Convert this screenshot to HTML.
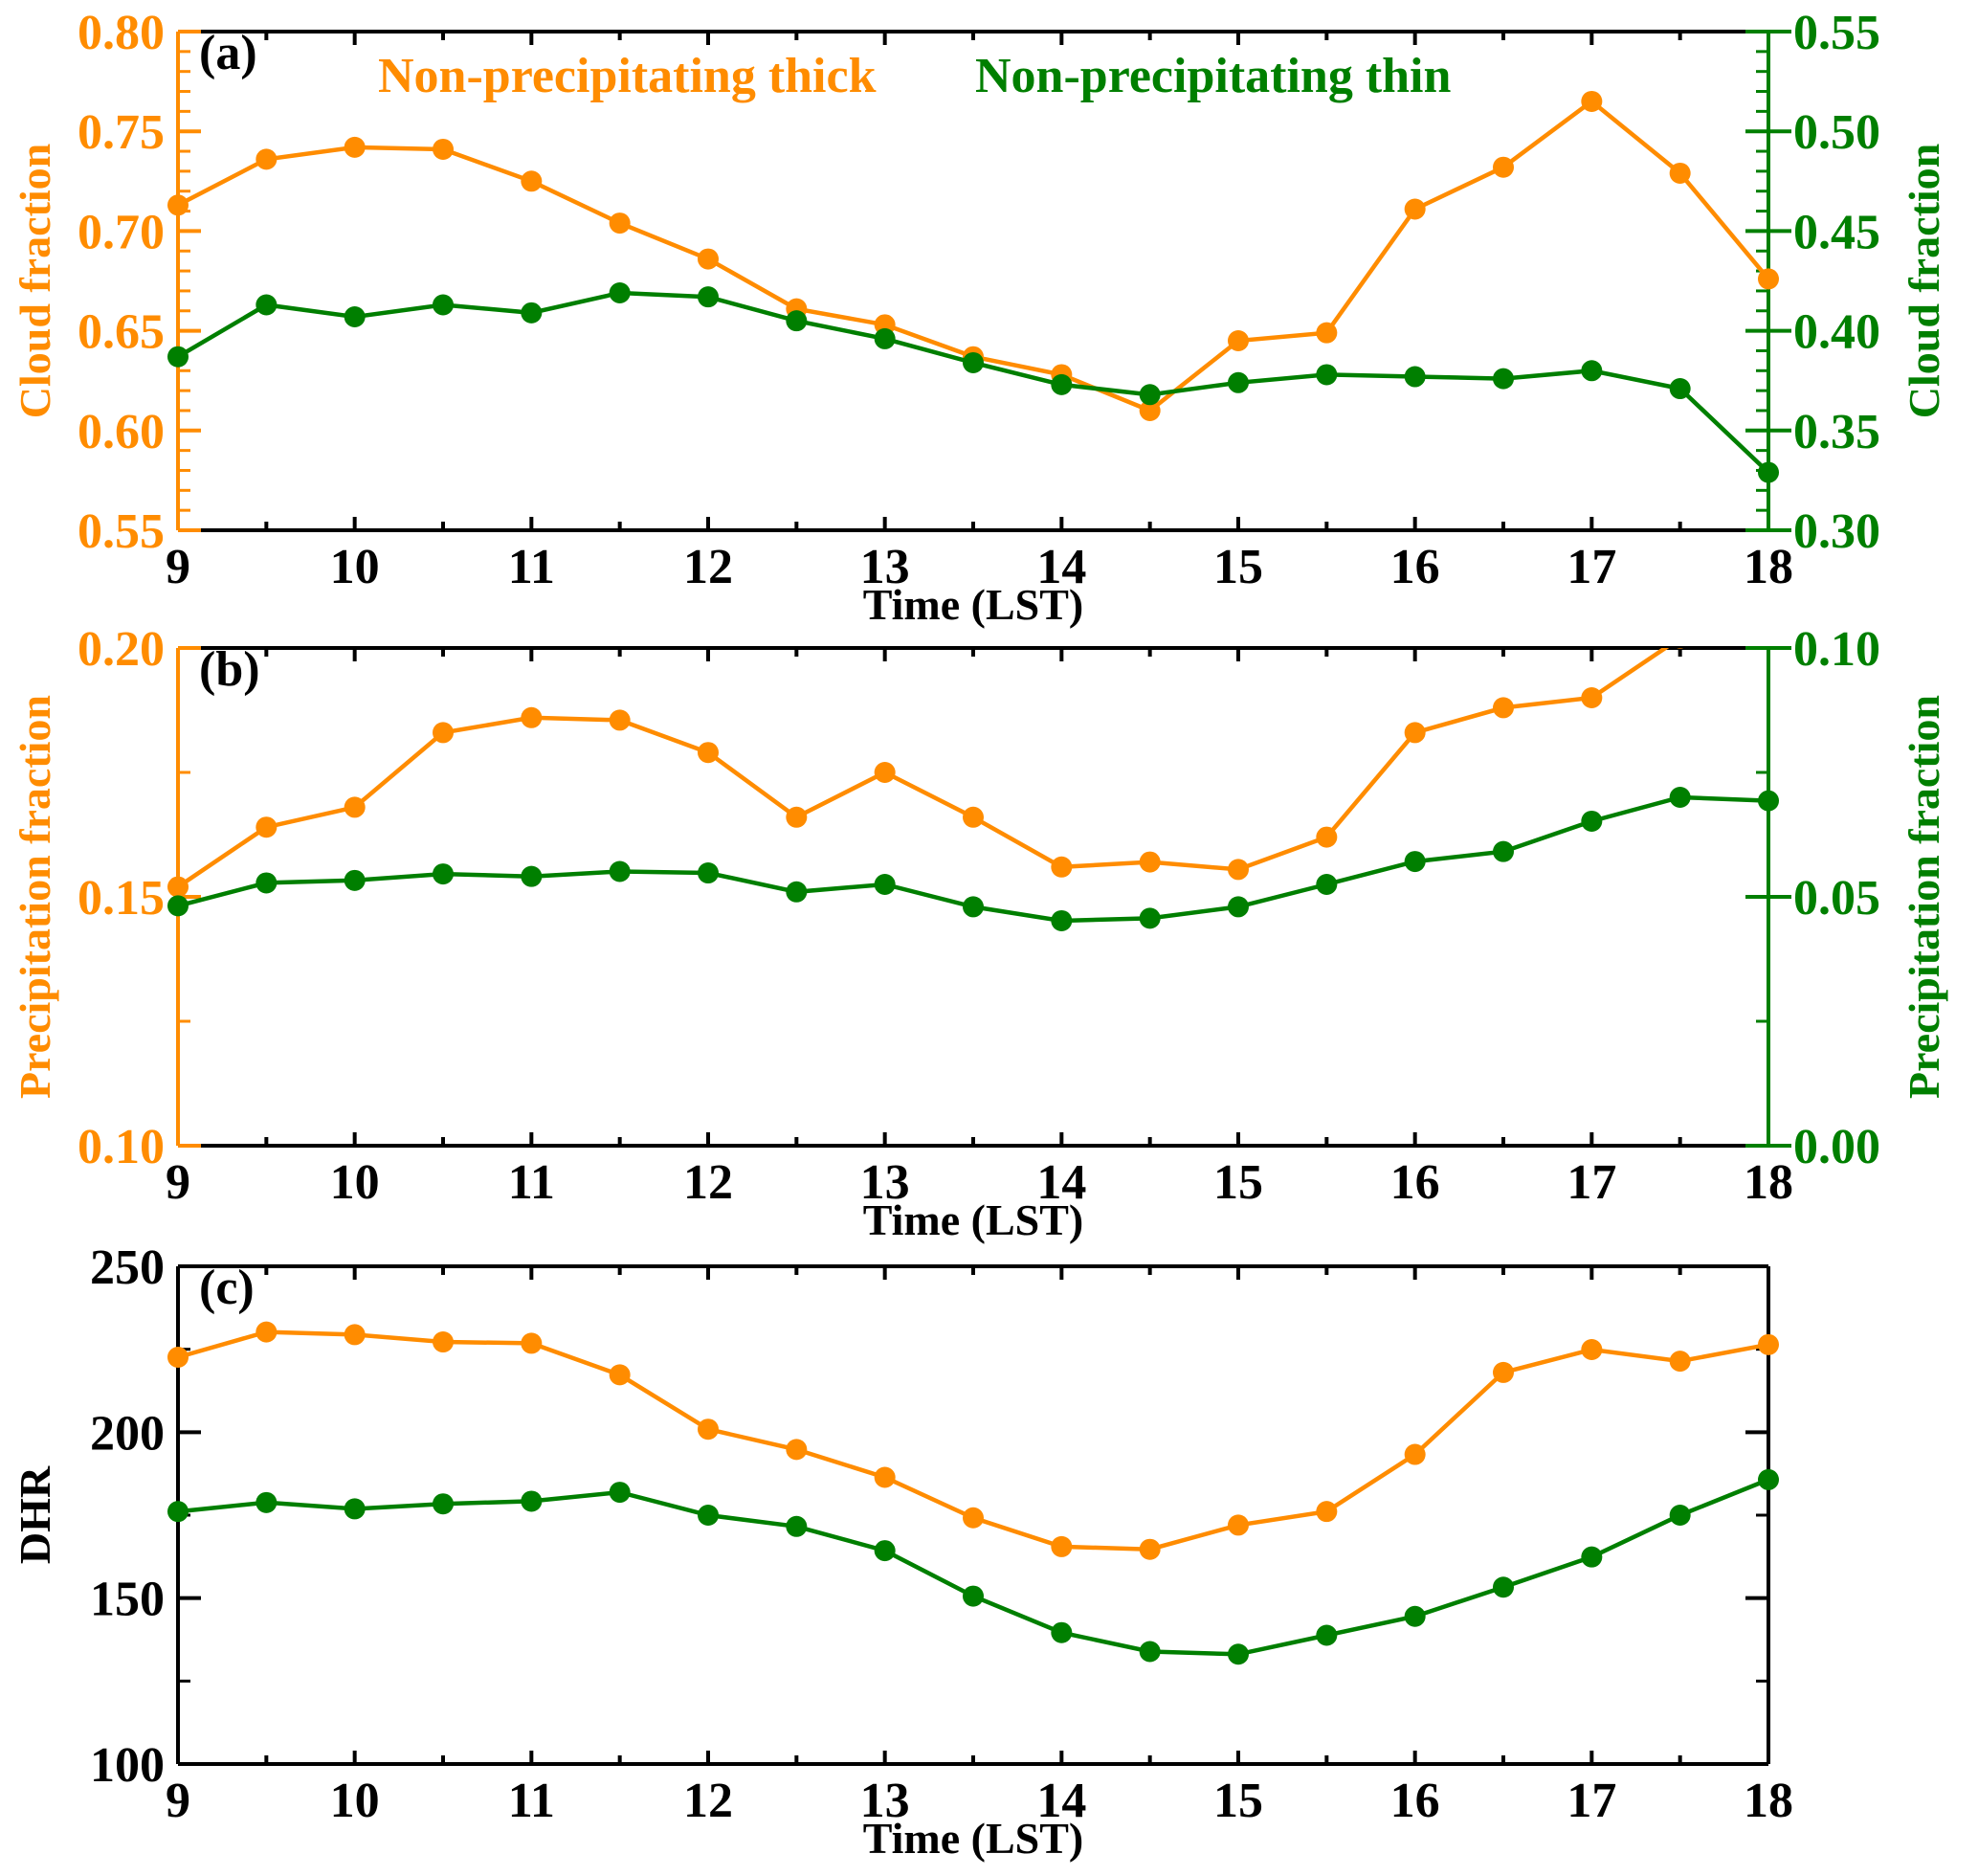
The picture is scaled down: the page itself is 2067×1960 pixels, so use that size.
<!DOCTYPE html>
<html><head><meta charset="utf-8"><style>
html,body{margin:0;padding:0;background:#fff;}
svg{display:block;font-family:"Liberation Serif",serif;font-weight:bold;}
</style></head><body>
<svg id="chart" width="2067" height="1960" viewBox="0 0 2067 1960" xmlns="http://www.w3.org/2000/svg"></svg>
<script>
const hours = [9,9.5,10,10.5,11,11.5,12,12.5,13,13.5,14,14.5,15,15.5,16,16.5,17,17.5,18];
const xTicks = [9,10,11,12,13,14,15,16,17,18];
const cloudThick = [0.713,0.736,0.742,0.741,0.725,0.704,0.686,0.661,0.653,0.637,0.628,0.610,0.645,0.649,0.711,0.732,0.765,0.729,0.676];
const cloudThin = [0.387,0.413,0.407,0.413,0.409,0.419,0.417,0.405,0.396,0.384,0.373,0.368,0.374,0.378,0.377,0.376,0.380,0.371,0.329];
const precipThick = [0.152,0.164,0.168,0.183,0.186,0.1855,0.179,0.166,0.175,0.166,0.156,0.157,0.1555,0.162,0.183,0.188,0.190,0.202,0.21];
const precipThin = [0.0482,0.0528,0.0533,0.0546,0.0541,0.0551,0.0548,0.051,0.0525,0.048,0.0452,0.0457,0.048,0.0525,0.0571,0.0591,0.0652,0.070,0.0693];
const dhrThick = [222.6,230.2,229.4,227.2,226.8,217.3,200.9,194.8,186.4,174.2,165.5,164.7,172,176.1,193.3,218,224.9,221.4,226.4];
const dhrThin = [176.1,178.8,176.9,178.4,179.2,181.9,175,171.6,164.3,150.6,139.6,133.9,133.1,138.8,144.5,153.3,162.4,175,185.7];
const leftTicksA = ["0.55","0.60","0.65","0.70","0.75","0.80"];
const rightTicksA = ["0.30","0.35","0.40","0.45","0.50","0.55"];
const leftTicksB = ["0.10","0.15","0.20"];
const rightTicksB = ["0.00","0.05","0.10"];
const leftTicksC = ["100","150","200","250"];

const OR="#ff8c00", GR="#007f00", FS=52, TS=46;
const svg=document.getElementById('chart');
const NS="http://www.w3.org/2000/svg";
const X0=186,X1=1848;
function sx(h){return X0+(h-9)/9*(X1-X0);}
function mk(tag,attrs,parent){const e=document.createElementNS(NS,tag);for(const k in attrs)e.setAttribute(k,attrs[k]);(parent||svg).appendChild(e);return e;}
function txt(s,x,y,attrs,parent){const t=mk('text',Object.assign({x:x,y:y},attrs),parent);t.textContent=s;return t;}

function panel(id,top,bot,lmin,lmax,lmaj,lminor,lcol,lLabels,ltitle,rmin,rmax,rmaj,rminor,rcol,rLabels,rtitle,s1,s2){
  const g=mk('g',{});
  
  
  const yl=v=>bot-(v-lmin)/(lmax-lmin)*(bot-top);
  const yr=v=>bot-(v-rmin)/(rmax-rmin)*(bot-top);
  const cp=mk('clipPath',{id:'clip'+id},g);
  mk('rect',{x:X0-14,y:top,width:X1-X0+28,height:bot-top+14},cp);
  const fr=mk('path',{d:`M${X0},${top}H${X1}M${X0},${bot}H${X1}`,stroke:'#000','stroke-width':4,fill:'none'},g);
  
  
  hours.forEach(h=>{const x=sx(h);const L=Number.isInteger(h)?14:9;
    mk('line',{x1:x,x2:x,y1:bot,y2:bot-L,stroke:'#000','stroke-width':4},g);
    mk('line',{x1:x,x2:x,y1:top,y2:top+L,stroke:'#000','stroke-width':4},g);});
  xTicks.forEach(h=>{const t=txt(String(h),sx(h),bot+55,{'text-anchor':'middle','font-size':FS,fill:'#000'},g);
    
    });
  const xt=txt('Time (LST)',(X0+X1)/2,bot+93,{'text-anchor':'middle','font-size':TS,fill:'#000'},g);
  
  
  const la=mk('line',{x1:X0,x2:X0,y1:top,y2:bot,stroke:lcol,'stroke-width':4},g);
  
  
  for(let v=lmin;v<=lmax+1e-9;v+=lminor){const maj=Math.abs(Math.round((v-lmin)/lmaj)*lmaj-(v-lmin))<1e-9;
    mk('line',{x1:X0,x2:X0+(maj?24:13),y1:yl(v),y2:yl(v),stroke:lcol,'stroke-width':maj?4:3},g);}
  lLabels.forEach(s=>{const t=txt(s,X0-14,yl(parseFloat(s))+18,{'text-anchor':'end','font-size':FS,fill:lcol},g);
    
    });
  const lt=txt(ltitle,0,0,{'text-anchor':'middle','font-size':TS,fill:lcol,transform:`translate(52,${(top+bot)/2}) rotate(-90)`},g);
  
  
  const ra=mk('line',{x1:X1,x2:X1,y1:top,y2:bot,stroke:rcol,'stroke-width':4},g);
  
  
  for(let v=rmin;v<=rmax+1e-9;v+=rminor){const maj=Math.abs(Math.round((v-rmin)/rmaj)*rmaj-(v-rmin))<1e-9;
    mk('line',{x1:X1,x2:X1-(maj?24:13),y1:yr(v),y2:yr(v),stroke:rcol,'stroke-width':maj?4:3},g);
    if(rLabels) mk('line',{x1:X1,x2:X1+(maj?24:0),y1:yr(v),y2:yr(v),stroke:rcol,'stroke-width':4},g);}
  if(rLabels){rLabels.forEach(s=>{const t=txt(s,X1+26,yr(parseFloat(s))+18,{'text-anchor':'start','font-size':FS,fill:rcol},g);
    
    });
    const rt=txt(rtitle,0,0,{'text-anchor':'middle','font-size':TS,fill:rcol,transform:`translate(2026,${(top+bot)/2}) rotate(-90)`},g);
    
    }
  const series=[[s1,yl,OR,'thick'],[s2,rLabels?yr:yl,GR,'thin']];
  series.forEach(([arr,yf,col,nm])=>{
    const sg=mk('g',{'clip-path':`url(#clip${id})`},g);
    
    
    const pts=arr.map((v,i)=>`${sx(hours[i]).toFixed(1)},${yf(v).toFixed(1)}`).join(' ');
    const pl=mk('polyline',{points:pts,fill:'none',stroke:col,'stroke-width':4.5},sg);
    
    
    arr.forEach((v,i)=>{const c=mk('circle',{cx:sx(hours[i]),cy:yf(v),r:11,fill:col},sg);
      
      });
  });
  const pt=txt('('+id+')',208,72,{'font-size':FS,fill:'#000',transform:`translate(0,${top-33})`},g);
  
  
  return g;
}
panel('a',33,554,0.55,0.80,0.05,0.01,OR,leftTicksA,'Cloud fraction',0.30,0.55,0.05,0.01,GR,rightTicksA,'Cloud fraction',cloudThick,cloudThin);
panel('b',677,1197,0.10,0.20,0.05,0.025,OR,leftTicksB,'Precipitation fraction',0,0.10,0.05,0.025,GR,rightTicksB,'Precipitation fraction',precipThick,precipThin);
panel('c',1323,1843,100,250,50,25,'#000',leftTicksC,'DHR',100,250,50,25,'#000',null,'',dhrThick,dhrThin);
const l1=txt('Non-precipitating thick',395,96,{'font-size':FS,fill:OR});


const l2=txt('Non-precipitating thin',1019,96,{'font-size':FS,fill:GR});


</script>
</body></html>
